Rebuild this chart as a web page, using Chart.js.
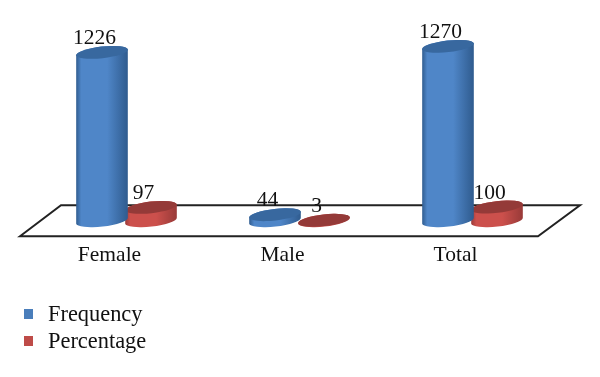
<!DOCTYPE html>
<html>
<head>
<meta charset="utf-8">
<style>
  html, body { margin: 0; padding: 0; background: #fff; }
  canvas { display: block; }
</style>
<script src="https://cdn.jsdelivr.net/npm/chart.js@4"></script>
</head>
<body>
<canvas id="chart" width="600" height="377"></canvas>
<script>
const categories = ['Female', 'Male', 'Total'];
const frequency = [1226, 44, 1270];
const percentage = [97, 3, 100];

const serif = 'Liberation Serif';
const textSize = 21.5;

// warna tutup silinder, per warna badan
const topShade = { '#4f86c8': '#38689f', '#cc504c': '#943a38' };

// cylinder look: tilted ellipse on both ends of each bar
const tilt = -6.5 * Math.PI / 180;
const ellipseRy = 5.8;

Chart.BarElement.prototype.draw = function(ctx) {
    const { x, y, base, width } = this.getProps(['x', 'y', 'base', 'width']);
    const opt = this.options;
    const rx = width / 2;

    const grad = ctx.createLinearGradient(x - rx, 0, x + rx, 0);
    grad.addColorStop(0, opt.borderColor);
    grad.addColorStop(0.1, opt.backgroundColor);
    grad.addColorStop(0.6, opt.backgroundColor);
    grad.addColorStop(1, opt.borderColor);

    ctx.save();
    ctx.beginPath();
    ctx.ellipse(x, base, rx, ellipseRy, tilt, 0, Math.PI);
    ctx.ellipse(x, y, rx, ellipseRy, tilt, Math.PI, 0);
    ctx.closePath();
    ctx.fillStyle = grad;
    ctx.fill();

    ctx.beginPath();
    ctx.ellipse(x, y, rx, ellipseRy, tilt, 0, Math.PI * 2);
    ctx.fillStyle = topShade[opt.backgroundColor];
    ctx.fill();
    ctx.restore();
};

// floor under the bars
const floorPlugin = {
    id: 'floor',
    beforeDatasetsDraw(chart) {
        const { ctx, chartArea } = chart;
        const { left, right, bottom } = chartArea;
        ctx.save();
        ctx.beginPath();
        ctx.moveTo(left - 20, bottom + 15.5);
        ctx.lineTo(left + 21, bottom - 15.5);
        ctx.lineTo(right + 21, bottom - 15.5);
        ctx.lineTo(right - 21, bottom + 15.5);
        ctx.closePath();
        ctx.strokeStyle = '#222';
        ctx.lineWidth = 2;
        ctx.stroke();
        ctx.restore();
    }
};

// angka di atas tiap silinder
const valuePlugin = {
    id: 'values',
    afterDatasetsDraw(chart) {
        const { ctx } = chart;
        ctx.save();
        ctx.font = textSize + 'px "' + serif + '"';
        ctx.fillStyle = '#111';
        ctx.textAlign = 'center';
        ctx.textBaseline = 'middle';
        chart.data.datasets.forEach((ds, i) => {
            chart.getDatasetMeta(i).data.forEach((bar, j) => {
                ctx.fillText(ds.data[j], bar.x - 7.5, bar.y - 14);
            });
        });
        ctx.restore();
    }
};

// legenda bertumpuk di kiri bawah
const stackedLegend = {
    id: 'stackedLegend',
    afterDraw(chart) {
        const { ctx } = chart;
        const colors = ['#4a7ebb', '#be4b48'];
        ctx.save();
        ctx.font = '22.4px "' + serif + '"';
        ctx.textBaseline = 'middle';
        chart.data.datasets.forEach((ds, i) => {
            const rowY = 315.5 + i * 27;
            ctx.fillStyle = colors[i];
            ctx.fillRect(24, rowY - 6.5, 9, 10);
            ctx.fillStyle = '#111';
            ctx.fillText(ds.label, 48, rowY);
        });
        ctx.restore();
    }
};

new Chart(document.getElementById('chart'), {
    type: 'bar',
    data: {
        labels: categories,
        datasets: [
            {
                label: 'Frequency',
                data: frequency,
                backgroundColor: '#4f86c8',
                borderColor: '#2f5b8e',
                borderWidth: 0,
                clip: false
            },
            {
                label: 'Percentage',
                data: percentage,
                backgroundColor: '#cc504c',
                borderColor: '#983a38',
                borderWidth: 0,
                clip: false
            }
        ]
    },
    options: {
        responsive: false,
        animation: false,
        layout: { padding: { top: 28.5, left: 40, right: 41, bottom: 95.5 } },
        datasets: { bar: { categoryPercentage: 0.5665, barPercentage: 1.06 } },
        scales: {
            x: {
                grid: { display: false },
                border: { display: false },
                ticks: {
                    color: '#111',
                    padding: 13.5,
                    labelOffset: -17,
                    maxRotation: 0,
                    font: { family: serif, size: textSize }
                }
            },
            y: {
                display: false,
                min: 0,
                max: 1400
            }
        },
        plugins: {
            tooltip: { enabled: false },
            legend: { display: false }
        }
    },
    plugins: [floorPlugin, valuePlugin, stackedLegend]
});
</script>
</body>
</html>
